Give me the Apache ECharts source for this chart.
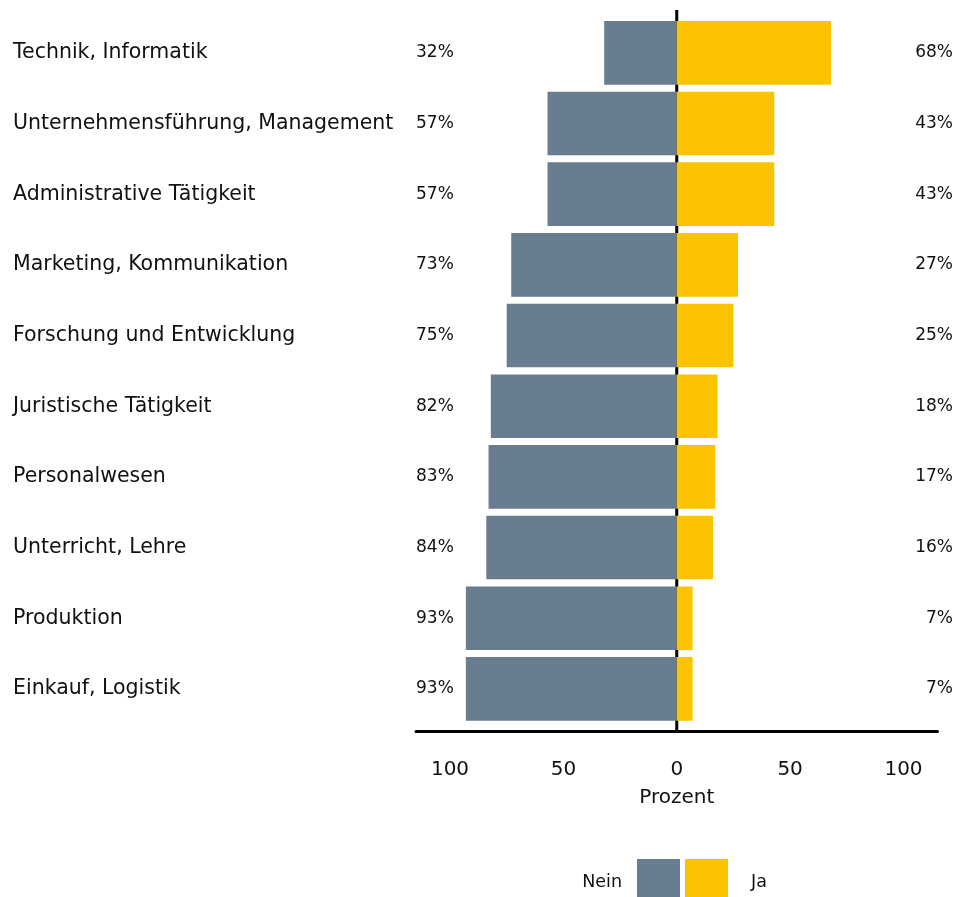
<!DOCTYPE html>
<html>
<head>
<meta charset="utf-8">
<script src="https://cdn.jsdelivr.net/npm/echarts@6/dist/echarts.min.js"></script>
<style>
  html, body { margin: 0; padding: 0; background: #ffffff; }
  #chart { width: 957px; height: 897px; }
</style>
</head>
<body>
<div id="chart"></div>
<script>
  // Anteile in Prozent
  const categories = ['Technik, Informatik', 'Unternehmensführung, Management', 'Administrative Tätigkeit',
    'Marketing, Kommunikation', 'Forschung und Entwicklung', 'Juristische Tätigkeit', 'Personalwesen',
    'Unterricht, Lehre', 'Produktion', 'Einkauf, Logistik'];
  const nein = [32, 57, 57, 73, 75, 82, 83, 84, 93, 93];
  const ja = [68, 43, 43, 27, 25, 18, 17, 16, 7, 7];
  const tickValues = [-100, -50, 0, 50, 100];

  const font = 'DejaVu Sans';
  const grau = '#687d8f';
  const gelb = '#fbc300';

  let myChart = echarts.init(document.getElementById('chart'));

  myChart.setOption({
    animation: false,
    textStyle: { fontFamily: font, color: '#111' },
    grid: { left: 416, right: 19.5, top: 17.5, height: 706.7 },
    legend: [{
      data: ['Nein'],
      right: 272,
      top: 854,
      align: 'right',
      icon: 'rect',
      itemWidth: 43,
      itemHeight: 46,
      selectedMode: false,
      textStyle: { fontFamily: font, fontSize: 17.5, color: '#111', padding: [0, 10, 0, 0] }
    }, {
      data: ['Ja'],
      left: 680,
      top: 854,
      align: 'left',
      icon: 'rect',
      itemWidth: 43,
      itemHeight: 46,
      selectedMode: false,
      textStyle: { fontFamily: font, fontSize: 17.5, color: '#111', padding: [0, 0, 0, 18] }
    }],
    xAxis: {
      type: 'value',
      min: -115,
      max: 115,
      offset: 7,
      name: 'Prozent',
      nameLocation: 'middle',
      nameGap: 57,
      nameTextStyle: { fontFamily: font, fontSize: 20, color: '#111' },
      axisLine: { show: true, lineStyle: { color: '#000', width: 3 } },
      axisTick: { show: false },
      splitLine: { show: false },
      axisLabel: {
        customValues: tickValues,
        margin: 29,
        fontFamily: font,
        fontSize: 20,
        color: '#111',
        formatter: (v) => Math.abs(v)
      }
    },
    yAxis: {
      type: 'category',
      inverse: true,
      data: categories,
      axisLine: { show: false, onZero: false },
      axisTick: { show: false },
      axisLabel: {
        align: 'left',
        margin: 403,
        fontFamily: font,
        fontSize: 20.5,
        color: '#111'
      }
    },
    series: [{
      // Nulllinie
      type: 'custom',
      z: 1,
      silent: true,
      data: [[0, 0]],
      encode: { x: 0, y: 1 },
      renderItem: function (params, api) {
        const band = api.size([0, 1])[1];
        const top = api.coord([0, 0]);
        const bottom = api.coord([0, categories.length - 1]);
        return {
          type: 'line',
          shape: { x1: top[0], y1: top[1] - band / 2 - 7.5, x2: bottom[0], y2: bottom[1] + band / 2 + 7 },
          style: { stroke: '#000', lineWidth: 3 }
        };
      }
    }, {
      name: 'Nein',
      type: 'bar',
      stack: 'total',
      z: 2,
      barCategoryGap: '10%',
      itemStyle: { color: grau },
      data: nein.map(v => -v)
    }, {
      name: 'Ja',
      type: 'bar',
      stack: 'total',
      z: 2,
      barCategoryGap: '10%',
      itemStyle: { color: gelb },
      data: ja
    }, {
      // Prozentangaben links und rechts
      type: 'custom',
      z: 3,
      silent: true,
      data: categories.map((c, i) => [0, i, nein[i], ja[i]]),
      encode: { x: 0, y: 1 },
      renderItem: function (params, api) {
        const i = api.value(1);
        const l = api.coord([-115, i]);
        const r = api.coord([115, i]);
        return {
          type: 'group',
          children: [{
            type: 'text',
            x: l[0], y: l[1],
            style: { text: api.value(2) + '%', textAlign: 'left', textVerticalAlign: 'middle',
              font: '17px "DejaVu Sans"', fill: '#111' }
          }, {
            type: 'text',
            x: r[0] + 15.5, y: r[1],
            style: { text: api.value(3) + '%', textAlign: 'right', textVerticalAlign: 'middle',
              font: '17px "DejaVu Sans"', fill: '#111' }
          }]
        };
      }
    }]
  });
</script>
</body>
</html>
